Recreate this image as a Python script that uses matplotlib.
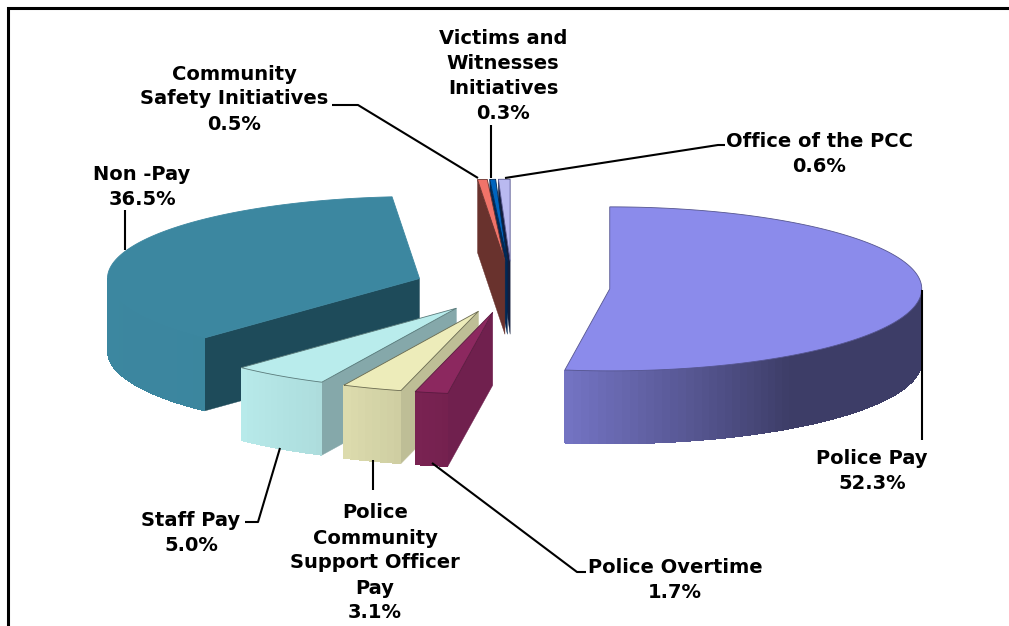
import numpy as np
import matplotlib
matplotlib.use('Agg')
import matplotlib.pyplot as plt
from matplotlib.collections import PolyCollection

# slices run clockwise from 12 o'clock
categories = ['Police Pay', 'Police Overtime', 'Police\nCommunity\nSupport Officer\nPay', 'Staff Pay',
	'Non -Pay', 'Community\nSafety Initiatives', 'Victims and\nWitnesses\nInitiatives', 'Office of the PCC']
values = [52.3, 1.7, 3.1, 5.0, 36.5, 0.5, 0.3, 0.6]

top_colors = ['#8b8beb', '#8c285f', '#edecba', '#b9ecec', '#3c87a0', '#f07369', '#0064be', '#b9b9f0']
cut_colors = ['#3e3c64', '#70204e', '#bebe96', '#85a8aa', '#1e4b5a', '#69322d', '#002855', '#141e3c']
edge_colors = ['#55558f', '#5a1a40', '#6a6a50', '#5a7a7a', '#3c87a0', '#69322d', '#002855', '#55558f']

# label centre, leader line, all in picture pixels
label_pos = [(872, 471), (675, 580), (375, 563), (191, 533), (142, 187), (234, 99), (503, 76), (819, 154)]
leaders = [
	[(922, 290), (922, 440)],
	[(432, 463), (577, 572), (586, 572)],
	[(373, 460), (373, 490)],
	[(280, 448), (258, 522), (245, 522)],
	[(125, 250), (125, 210)],
	[(478, 178), (358, 105), (332, 105)],
	[(491, 178), (491, 125)],
	[(505, 178), (718, 145), (725, 145)],
]

cx, cy = 512, 287
rx, ry = 312, 82
depth = 73
explode = 98


def rim(x0, y0, angles):
	t = np.radians(angles)
	return np.column_stack([x0 + rx * np.sin(t), y0 - ry * np.cos(t)])


def darken(col, f):
	return tuple(np.array(matplotlib.colors.to_rgb(col)) * f)


def side_light(angle):
	return np.interp(angle, [145, 188, 205, 223, 270], [0.44, 0.83, 0.93, 0.99, 1.0])


fig = plt.figure(figsize=(10.09, 6.26), dpi=100)
ax = fig.add_axes([0, 0, 1, 1])
ax.set_xlim(0, 1009)
ax.set_ylim(626, 0)
ax.axis('off')

edges = np.cumsum([0] + values) * 3.6
slices = []
for i in range(len(values)):
	mid = np.radians((edges[i] + edges[i + 1]) / 2)
	x0 = cx + explode * np.sin(mid)
	y0 = cy - explode * np.cos(mid) * ry / rx
	slices.append((y0, x0, i))

# back slices first so the front ones cover them
for y0, x0, i in sorted(slices):
	a0, a1 = edges[i], edges[i + 1]
	top = top_colors[i]

	# straight cut faces
	if np.sin(np.radians(a0)) < 0:
		p = rim(x0, y0, [a0])[0]
		ax.fill([x0, p[0], p[0], x0], [y0, p[1], p[1] + depth, y0 + depth], color=cut_colors[i], lw=0.3)
	if np.sin(np.radians(a1)) > 0.001:
		p = rim(x0, y0, [a1])[0]
		ax.fill([x0, p[0], p[0], x0], [y0, p[1], p[1] + depth, y0 + depth], color=cut_colors[i], lw=0.3)

	# outer wall, only the part facing us. each band overlaps the next to hide seams
	lo, hi = max(a0, 90), min(a1, 270)
	if hi > lo:
		steps = np.linspace(lo, hi, int((hi - lo) / 1.5) + 2)
		pts = rim(x0, y0, steps)
		polys = []
		cols = []
		for k in range(len(steps) - 1):
			end = min(k + 2, len(steps) - 1)
			polys.append([pts[k], pts[end], pts[end] + [0, depth], pts[k] + [0, depth]])
			cols.append(darken(top, side_light((steps[k] + steps[k + 1]) / 2)))
		ax.add_collection(PolyCollection(polys, facecolors=cols, edgecolors='none', antialiaseds=False))

	# top surface
	arc = rim(x0, y0, np.linspace(a0, a1, 200))
	ax.fill(np.r_[x0, arc[:, 0]], np.r_[y0, arc[:, 1]], facecolor=top, edgecolor=edge_colors[i], lw=0.6)

for pts in leaders:
	xs, ys = zip(*pts)
	ax.plot(xs, ys, color='black', lw=1.5, solid_capstyle='butt')

for name, v, pos in zip(categories, values, label_pos):
	ax.text(pos[0], pos[1], name + '\n' + f'{v:.1f}%', ha='center', va='center', fontweight='bold',
		fontsize=14, family='DejaVu Sans', linespacing=1.4, color='black')

# chart frame runs off the picture on the right and bottom
ax.plot([8, 8, 1009], [626, 8, 8], color='black', lw=2.2, solid_joinstyle='miter')

fig.savefig('out.png', dpi=100)
